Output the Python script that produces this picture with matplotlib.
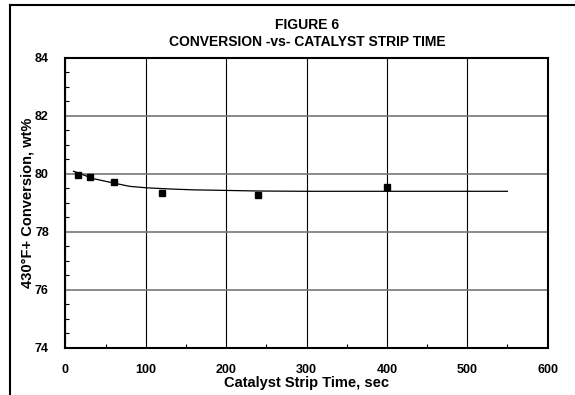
import matplotlib
matplotlib.use("Agg")
import matplotlib.pyplot as plt
from matplotlib.lines import Line2D
from matplotlib.ticker import MultipleLocator

plt.rcParams['font.family'] = ['Liberation Sans', 'DejaVu Sans']

# measured points
strip_time = [15, 30, 60, 120, 240, 400]
conversion = [79.94, 79.87, 79.71, 79.33, 79.26, 79.53]

# fitted curve
fit_time = [10, 20, 34, 59, 80, 101, 130, 159, 200, 240, 300, 400, 550]
fit_conv = [80.08, 79.98, 79.83, 79.68, 79.56, 79.51, 79.47, 79.44, 79.42, 79.40, 79.39, 79.39, 79.39]

x_ticks = [0, 100, 200, 300, 400, 500, 600]
y_ticks = [74, 76, 78, 80, 82, 84]

fig = plt.figure(figsize=(5.75, 3.95), dpi=100)
ax = fig.add_axes([0.1139, 0.1197, 0.8383, 0.7347])

ax.plot(fit_time, fit_conv, color="black", lw=0.9, zorder=3)
ax.plot(strip_time, conversion, "s", color="black", markersize=4.5, zorder=4)

ax.set_xlim(0, 600)
ax.set_ylim(74, 84)
ax.set_xticks(x_ticks)
ax.set_yticks(y_ticks)
ax.xaxis.set_minor_locator(MultipleLocator(50))
ax.yaxis.set_minor_locator(MultipleLocator(0.5))
ax.tick_params(which="major", length=0, labelsize=9, pad=12)
ax.tick_params(which="minor", direction="in", length=3, width=0.8)
for lab in ax.get_xticklabels() + ax.get_yticklabels():
    lab.set_fontweight("bold")

ax.grid(axis="y", which="major", color="#777777", lw=1.2)
ax.grid(axis="x", which="major", color="black", lw=0.8)
for s in ax.spines.values():
    s.set_linewidth(1.5)

ax.set_xlabel("Catalyst Strip Time, sec", fontsize=10.5, fontweight="bold", labelpad=0)
ax.set_ylabel("430°F+ Conversion, wt%", fontsize=10.5, fontweight="bold", labelpad=4)
ax.yaxis.set_label_coords(-0.065, 0.5)

fig.text(0.534, 1 - 25 / 395, "FIGURE 6", ha="center", va="center", fontsize=10, fontweight="bold")
fig.text(0.534, 1 - 42 / 395, "CONVERSION -vs- CATALYST STRIP TIME", ha="center", va="center",
         fontsize=10, fontweight="bold")

# outer frame (left and top edges only visible)
fig.add_artist(Line2D([10 / 575, 10 / 575], [0, 1 - 5 / 395], color="black", lw=1.5))
fig.add_artist(Line2D([10 / 575, 1], [1 - 5 / 395, 1 - 5 / 395], color="black", lw=1.5))

fig.savefig("out.png", dpi=100)
